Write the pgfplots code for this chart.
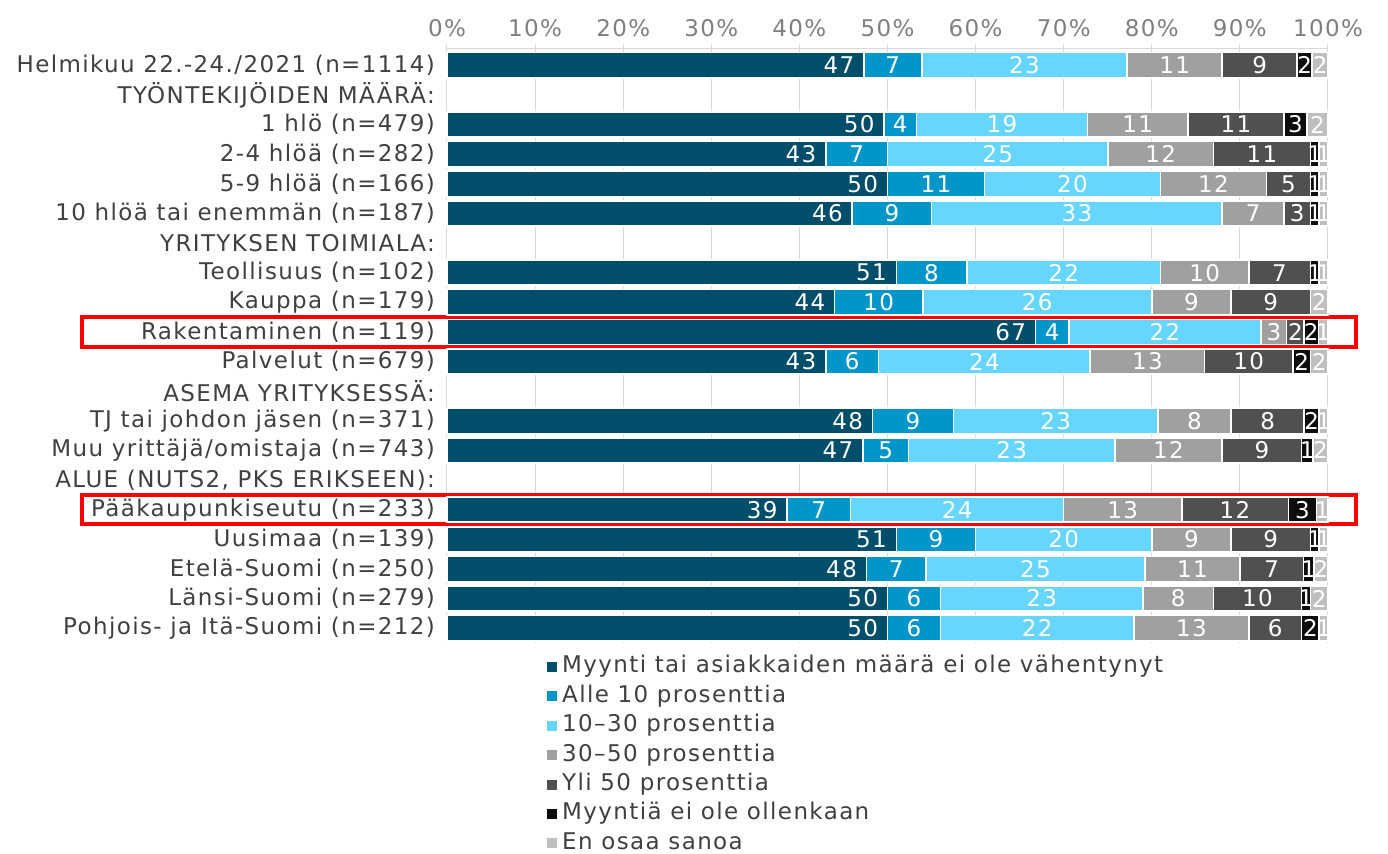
\documentclass[border=0pt]{standalone}
\usepackage{pgfplots}
\pgfplotsset{compat=1.18}
\usepackage{pgfplotstable}
\usepackage{fontspec}
\setmainfont[LetterSpace=6]{DejaVu Sans}
\definecolor{c1}{HTML}{004E6A}
\definecolor{c2}{HTML}{0096C9}
\definecolor{c3}{HTML}{66D6FF}
\definecolor{c4}{HTML}{A0A0A0}
\definecolor{c5}{HTML}{505050}
\definecolor{c6}{HTML}{0D0D0D}
\definecolor{c7}{HTML}{BFBFBF}
\definecolor{txt}{HTML}{404040}
\definecolor{gridc}{HTML}{D9D9D9}

\pgfplotstableread[col sep=comma]{
y,a,b,c,d,e,f,g,la,lb,lc,ld,le,lf,lg
0,47.3,6.6,23.3,10.8,8.5,1.7,1.8,47,7,23,11,9,2,2
2,49.6,3.7,19.4,11.4,10.9,2.6,2.4,50,4,19,11,11,3,2
3,43,7,25,12,11,1,1,43,7,25,12,11,1,1
4,50,11,20,12,5,1,1,50,11,20,12,5,1,1
5,46,9,33,7,3,1,1,46,9,33,7,3,1,1
7,51,8,22,10,7,1,1,51,8,22,10,7,1,1
8,44,10,26,9,9,0,2,44,10,26,9,9,,2
9,66.8,3.8,21.8,2.9,2.0,1.6,1.1,67,4,22,3,2,2,1
10,43,6,24,13,10,2,2,43,6,24,13,10,2,2
12,48.3,9.2,23.2,8.3,8.3,1.7,1.0,48,9,23,8,8,2,1
13,47.2,5.2,23.4,12.2,9.0,1.3,1.7,47,5,23,12,9,1,2
15,38.6,7.2,24.2,13.4,12.1,3.2,1.3,39,7,24,13,12,3,1
16,51,9,20,9,9,1,1,51,9,20,9,9,1,1
17,47.6,6.8,24.8,10.8,7.2,1.2,1.6,48,7,25,11,7,1,2
18,50,6,23,8,10,1,2,50,6,23,8,10,1,2
19,50,6,22,13,6,2,1,50,6,22,13,6,2,1
}\datatable

\begin{document}
\begin{tikzpicture}[font=\fontsize{11.5}{13.8}\selectfont]
\path[use as bounding box] (-223.5pt,-105.5pt) rectangle (470.5pt,321.5pt);
\begin{axis}[
  at={(0,0)}, anchor=south west,
  scale only axis, width=440.5pt, height=297pt,
  xbar stacked, bar width=12.6pt,
  xmin=0, xmax=100, ymin=-0.55, ymax=19.5, y dir=reverse,
  axis x line*=top, axis y line*=none,
  axis line style={draw=gridc, line width=0.5pt},
  xtick={0,10,...,100},
  xticklabel={\pgfmathprintnumber{\tick}\%},
  /pgf/number format/assume math mode=true,
  xmajorgrids, grid style={draw=gridc, line width=0.5pt},
  tick align=outside, major tick length=2.5pt,
  xtick style={draw=gridc, line width=0.5pt},
  ytick style={draw=none},
  ytick={0,...,19},
  yticklabels={Helmikuu 22.-24./2021 (n=1114), TYÖNTEKIJÖIDEN MÄÄRÄ:, 1 hlö (n=479), 2-4 hlöä (n=282), 5-9 hlöä (n=166), 10 hlöä tai enemmän (n=187), YRITYKSEN TOIMIALA:, Teollisuus (n=102), Kauppa (n=179), Rakentaminen (n=119), Palvelut (n=679), ASEMA YRITYKSESSÄ:, TJ tai johdon jäsen (n=371), Muu yrittäjä/omistaja (n=743), {ALUE (NUTS2, PKS ERIKSEEN):}, Pääkaupunkiseutu (n=233), Uusimaa (n=139), Etelä-Suomi (n=250), Länsi-Suomi (n=279), Pohjois- ja Itä-Suomi (n=212)},
  xticklabel style={text=black!50},
  yticklabel style={text=txt},
  point meta=explicit symbolic,
  every node near coord/.append style={text=white, font=\fontsize{11.5}{13.8}\selectfont},
  legend style={at={(axis description cs:0.111,0)}, anchor=north west, yshift=-4.5pt, draw=none, fill=none, inner sep=0pt, text=txt,
    nodes={text height=8.4pt, text depth=2.5pt, inner sep=1.9pt}},
  legend cell align=left,
  legend image code/.code={\fill[#1] (-0.6pt,-2.9pt) rectangle (5.2pt,2.9pt);},
  clip=false,
]
\addplot[fill=c1, draw=white, line width=0.8pt] table[x=a, y=y, meta=la] {\datatable};
\addplot[fill=c2, draw=white, line width=0.8pt, nodes near coords] table[x=b, y=y, meta=lb] {\datatable};
\addplot[fill=c3, draw=white, line width=0.8pt, nodes near coords] table[x=c, y=y, meta=lc] {\datatable};
\addplot[fill=c4, draw=white, line width=0.8pt, nodes near coords] table[x=d, y=y, meta=ld] {\datatable};
\addplot[fill=c5, draw=white, line width=0.8pt, nodes near coords] table[x=e, y=y, meta=le] {\datatable};
\addplot[fill=c6, draw=white, line width=0.8pt, nodes near coords] table[x=f, y=y, meta=lf] {\datatable};
\addplot[fill=c7, draw=white, line width=0.8pt, nodes near coords] table[x=g, y=y, meta=lg] {\datatable};
\legend{Myynti tai asiakkaiden määrä ei ole vähentynyt, Alle 10 prosenttia, 10–30 prosenttia, 30–50 prosenttia, Yli 50 prosenttia, Myyntiä ei ole ollenkaan, En osaa sanoa}
\draw[red, line width=2pt] (axis cs:-41.4,8.5) rectangle (axis cs:103.2,9.5);
\draw[red, line width=2pt] (axis cs:-41.4,14.5) rectangle (axis cs:103.2,15.5);
\end{axis}
\begin{axis}[
  at={(0,0)}, anchor=south west,
  scale only axis, width=440.5pt, height=297pt,
  xmin=0, xmax=100, ymin=-0.55, ymax=19.5, y dir=reverse,
  hide axis, clip=false,
  point meta=explicit symbolic,
]
\addplot[draw=none, mark=none, nodes near coords,
  every node near coord/.append style={anchor=east, xshift=-1.2pt, text=white, font=\fontsize{11.5}{13.8}\selectfont}] table[x=a, y=y, meta=la] {\datatable};
\end{axis}
\end{tikzpicture}
\end{document}
